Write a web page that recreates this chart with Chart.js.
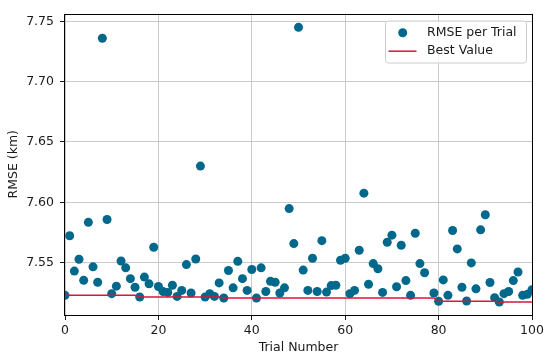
<!DOCTYPE html>
<html>
<head>
<meta charset="utf-8">
<script src="https://cdn.jsdelivr.net/npm/chart.js@4/dist/chart.umd.min.js"></script>
<style>
  html, body { margin: 0; padding: 0; background: #fff; }
  #wrap { width: 550px; height: 361px; }
</style>
</head>
<body>
<div id="wrap"><canvas id="c" width="550" height="361"></canvas></div>
<script>
// ---- data ----
const trials = [0,1,2,3,4,5,6,7,8,9,10,11,12,13,14,15,16,17,18,19,20,21,22,23,24,25,26,27,28,29,30,31,32,33,34,35,36,37,38,39,40,41,42,43,44,45,46,47,48,49,50,51,52,53,54,55,56,57,58,59,60,61,62,63,64,65,66,67,68,69,70,71,72,73,74,75,76,77,79,80,81,82,83,84,85,86,87,88,89,90,91,92,93,94,95,96,97,98,99,100];
const rmse = [7.5229,7.5723,7.5430,7.5528,7.5353,7.5834,7.5465,7.5337,7.7360,7.5858,
              7.5243,7.5305,7.5514,7.5457,7.5367,7.5296,7.5215,7.5380,7.5324,7.5628,
              7.5302,7.5261,7.5253,7.5313,7.5220,7.5270,7.5484,7.5248,7.5530,7.6300,
              7.5215,7.5243,7.5220,7.5332,7.5207,7.5435,7.5291,7.5511,7.5367,7.5270,
              7.5443,7.5207,7.5457,7.5261,7.5345,7.5337,7.5248,7.5291,7.5948,7.5658,
              7.7450,7.5438,7.5270,7.5536,7.5261,7.5682,7.5256,7.5310,7.5313,7.5520,
              7.5536,7.5243,7.5270,7.5603,7.6076,7.5321,7.5492,7.5449,7.5253,7.5669,
              7.5728,7.5300,7.5644,7.5351,7.5229,7.5744,7.5492,7.5416,7.5248,7.5180,
              7.5357,7.5229,7.5766,7.5614,7.5296,7.5182,7.5498,7.5283,7.5772,7.5897,
              7.5335,7.5210,7.5174,7.5243,7.5261,7.5351,7.5422,7.5229,7.5237,7.5275];
const xTicks = [0, 20, 40, 60, 80, 100];
const yTicks = [7.55, 7.60, 7.65, 7.70, 7.75];
const seriesLabels = ['RMSE per Trial', 'Best Value'];
const xTitle = 'Trial Number';
const yTitle = 'RMSE (km)';

// best value so far (running minimum of the trial values)
const bestSoFar = [];
rmse.forEach((v, i) => bestSoFar.push(i === 0 ? v : Math.min(bestSoFar[i - 1], v)));

const scatterPts = trials.map((t, i) => ({ x: t, y: rmse[i] }));
const bestPts = trials.map((t, i) => ({ x: t, y: bestSoFar[i] }));

const FONT = 'DejaVu Sans';
const FSIZE = 12.5;
const TEXT = '#1a1a1a';
const PT_COLOR = '#00688B';
const LINE_COLOR = '#DC143C';

const framePlugin = {
  id: 'frame',
  afterDraw(chart) {
    const { ctx, chartArea: a } = chart;
    ctx.save();
    ctx.strokeStyle = '#000';
    ctx.lineWidth = 1;
    ctx.strokeRect(Math.round(a.left) - 0.5, Math.round(a.top) + 0.5,
                   Math.round(a.right - a.left) + 1, Math.round(a.bottom - a.top) - 1);
    // legend
    const ds = chart.data.datasets;
    const bx = a.right - 147, by = a.top + 7, bw = 141, bh = 42;
    ctx.beginPath();
    ctx.roundRect(bx + 0.5, by + 0.5, bw, bh, 3);
    ctx.fillStyle = 'rgba(255,255,255,0.8)';
    ctx.fill();
    ctx.strokeStyle = '#cccccc';
    ctx.lineWidth = 1;
    ctx.stroke();
    ctx.font = FSIZE + 'px "' + FONT + '"';
    ctx.fillStyle = TEXT;
    ctx.textBaseline = 'middle';
    ctx.textAlign = 'left';
    // entry 1: marker
    ctx.beginPath();
    ctx.arc(bx + 17.7, by + 12.3, 4.5, 0, Math.PI * 2);
    ctx.fillStyle = ds[0].backgroundColor;
    ctx.fill();
    ctx.fillStyle = TEXT;
    ctx.fillText(ds[0].label, bx + 42, by + 12.5);
    // entry 2: line
    ctx.beginPath();
    ctx.moveTo(bx + 3.5, by + 30.7);
    ctx.lineTo(bx + 31.5, by + 30.7);
    ctx.strokeStyle = ds[1].borderColor;
    ctx.lineWidth = 1.5;
    ctx.stroke();
    ctx.fillStyle = TEXT;
    ctx.fillText(ds[1].label, bx + 42, by + 30.5);
    ctx.restore();
  }
};

new Chart(document.getElementById('c'), {
  type: 'scatter',
  data: {
    datasets: [
      {
        label: seriesLabels[0],
        data: scatterPts,
        backgroundColor: PT_COLOR,
        borderColor: PT_COLOR,
        borderWidth: 0,
        pointRadius: 4.5,
        pointHoverRadius: 4.5,
        clip: 0,
        order: 2
      },
      {
        label: seriesLabels[1],
        data: bestPts,
        showLine: true,
        borderColor: LINE_COLOR,
        backgroundColor: LINE_COLOR,
        borderWidth: 1.5,
        pointRadius: 0,
        pointHoverRadius: 0,
        tension: 0,
        clip: 0,
        order: 1
      }
    ]
  },
  options: {
    responsive: false,
    animation: false,
    devicePixelRatio: 1,
    layout: { padding: { left: 0, right: 18, top: 8, bottom: 0 } },
    plugins: {
      legend: { display: false },
      tooltip: { enabled: false }
    },
    scales: {
      x: {
        type: 'linear',
        min: 0,
        max: 100,
        afterBuildTicks: (s) => { s.ticks = xTicks.map(v => ({ value: v })); },
        afterFit: (s) => { s.height = 46; },
        border: { display: false },
        grid: {
          color: '#c4c4c4',
          lineWidth: 0.9,
          drawTicks: true,
          tickLength: 5,
          tickColor: '#000',
          tickWidth: 0.9
        },
        ticks: {
          padding: 3,
          maxRotation: 0,
          color: TEXT,
          font: { family: FONT, size: FSIZE },
          callback: (v) => String(v)
        },
        title: {
          display: true,
          text: xTitle,
          color: TEXT,
          font: { family: FONT, size: FSIZE },
          padding: { top: 0, bottom: 6 }
        }
      },
      y: {
        type: 'linear',
        min: 7.5066,
        max: 7.7565,
        afterBuildTicks: (s) => { s.ticks = yTicks.map(v => ({ value: v })); },
        afterFit: (s) => { s.width = 65; },
        border: { display: false },
        grid: {
          color: '#c4c4c4',
          lineWidth: 0.9,
          drawTicks: true,
          tickLength: 5,
          tickColor: '#000',
          tickWidth: 0.9
        },
        ticks: {
          padding: 6,
          color: TEXT,
          font: { family: FONT, size: FSIZE },
          callback: (v) => Number(v).toFixed(2)
        },
        title: {
          display: true,
          text: yTitle,
          color: TEXT,
          font: { family: FONT, size: FSIZE },
          padding: { top: 6, bottom: 0 }
        }
      }
    }
  },
  plugins: [framePlugin]
});
</script>
</body>
</html>
